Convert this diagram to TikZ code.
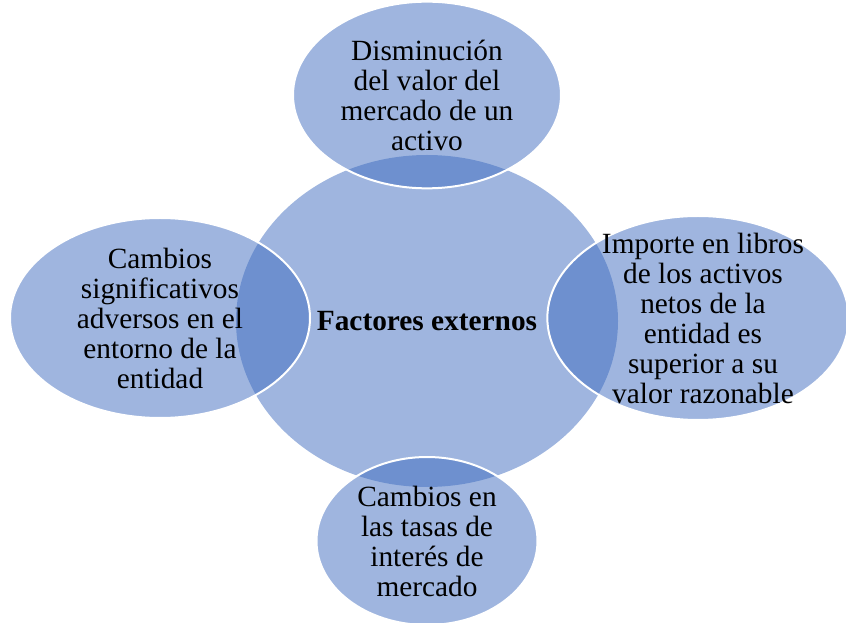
\documentclass[tikz,border=0pt]{standalone}
\usepackage{fontspec}
\setmainfont{Liberation Serif}
\usepackage{tikz}
\usetikzlibrary{shapes.geometric}
\definecolor{myBlue}{RGB}{63,108,191}

\begin{document}
\begin{tikzpicture}[x=0.75pt, y=-0.75pt,
  blob/.style={ellipse, fill=myBlue, fill opacity=0.5, draw=white,
               line width=1.5pt, inner sep=0pt},
  lbl/.style={align=center, font=\fontsize{22}{22.5}\selectfont},
]
  \useasboundingbox (0,0) rectangle (846,623);
  \node[blob, draw=none, minimum width=286.5pt, minimum height=249pt] (core) at (427,321) {};
  \node[blob, minimum width=201pt, minimum height=140pt] (top) at (427,95) {};
  \node[blob, minimum width=225pt, minimum height=150pt] (left) at (160,318) {};
  \node[blob, minimum width=226pt, minimum height=153pt] (right) at (698,318) {};
  \node[blob, minimum width=165.75pt, minimum height=126pt] (bottom) at (427,541) {};

  \node[lbl] (coreText) at (core) {\textbf{Factores externos}};
  \node[lbl] (topText) at (top) {
    Disminución\\
    del valor del\\
    mercado de un\\
    activo
  };
  \node[lbl] (leftText) at (left) {
    Cambios\\
    significativos\\
    adversos en el\\
    entorno de la\\
    entidad
  };
  \node[lbl] (rightText) at ([xshift=3.75pt]right.center) {
    Importe en libros\\
    de los activos\\
    netos de la\\
    entidad es\\
    superior a su\\
    valor razonable
  };
  \node[lbl] (bottomText) at (bottom) {
    Cambios en\\
    las tasas de\\
    interés de\\
    mercado
  };
\end{tikzpicture}
\end{document}
